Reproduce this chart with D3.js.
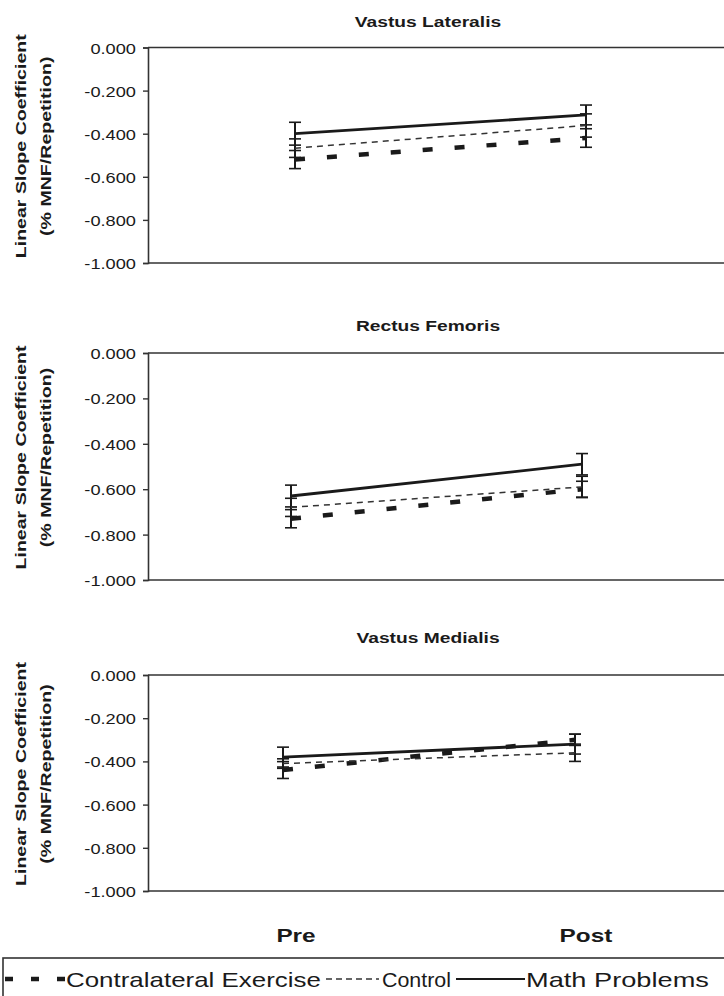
<!DOCTYPE html>
<html>
<head>
<meta charset="utf-8">
<script src="https://cdn.jsdelivr.net/npm/d3@7"></script>
<style>
  html, body { margin: 0; padding: 0; background: #fff; }
  svg { display: block; }
  text { font-family: "Liberation Sans", Arial, sans-serif; fill: #1a1a1a; }
</style>
</head>
<body>
<svg id="chart" width="724" height="996"></svg>
<script>
// ---------------- data ----------------
const categories = ["Pre", "Post"];
const panelTitles = ["Vastus Lateralis", "Rectus Femoris", "Vastus Medialis"];
const yTickValues = [0, -0.2, -0.4, -0.6, -0.8, -1.0];
const seriesNames = ["Contralateral Exercise", "Control", "Math Problems"];

// means per panel [Pre, Post]
const contraMean  = [[-0.520, -0.420], [-0.730, -0.600], [-0.440, -0.300]];
const controlMean = [[-0.467, -0.362], [-0.680, -0.590], [-0.410, -0.360]];
const mathMean    = [[-0.400, -0.313], [-0.630, -0.490], [-0.380, -0.320]];
// standard errors per panel [Pre, Post]
const contraSE    = [[0.042, 0.043], [0.040, 0.035], [0.039, 0.026]];
const controlSE   = [[0.043, 0.054], [0.040, 0.047], [0.022, 0.040]];
const mathSE      = [[0.053, 0.046], [0.048, 0.047], [0.046, 0.046]];

// ---------------- layout ----------------
const W = 724, H = 996;
const panelLayout = [
  { top: 47.5, bottom: 263, left: 148, pre: 295, post: 586, titleY: 27 },
  { top: 353,  bottom: 580, left: 148, pre: 291, post: 582, titleY: 331 },
  { top: 675,  bottom: 891, left: 148, pre: 283, post: 575, titleY: 643 }
];
const TXT = 1.35; // horizontal glyph stretch along reading direction

const svg = d3.select("#chart");
const fmt = d => d3.format(".3f")(d).replace("\u2212", "-");

const styles = [
  { width: 4.5, dash: "10,22", color: "#1a1a1a" },
  { width: 1.5, dash: "6,5",   color: "#333" },
  { width: 2.8, dash: null,    color: "#1a1a1a" }
];

panelTitles.forEach((title, p) => {
  const L = panelLayout[p];
  const y = d3.scaleLinear().domain([-1, 0]).range([L.bottom, L.top]);
  const x = d3.scalePoint().domain(categories).range([L.pre, L.post]);
  const g = svg.append("g");

  // title
  g.append("text")
    .attr("transform", `translate(428,${L.titleY}) scale(${TXT * 0.95},1)`)
    .attr("text-anchor", "middle")
    .style("font-weight", "bold").style("font-size", "15px")
    .text(title);

  // frame lines (top = category axis at 0, bottom border)
  g.append("line").attr("x1", L.left).attr("x2", W).attr("y1", y(0)).attr("y2", y(0))
    .attr("stroke", "#333").attr("stroke-width", 1.6);
  g.append("line").attr("x1", L.left).attr("x2", W).attr("y1", y(-1)).attr("y2", y(-1))
    .attr("stroke", "#333").attr("stroke-width", 1.6);

  // y axis
  const yAxis = d3.axisLeft(y).tickValues(yTickValues).tickSize(5).tickFormat(fmt);
  const ax = g.append("g").attr("transform", `translate(${L.left},0)`).call(yAxis);
  ax.select(".domain").attr("stroke", "#333").attr("stroke-width", 1.6);
  ax.selectAll(".tick line").attr("stroke", "#333").attr("stroke-width", 1.4);
  ax.selectAll(".tick text")
    .attr("x", null).attr("dy", null)
    .attr("transform", `translate(-12,5.5) scale(${TXT * 0.9},1)`)
    .style("font-size", "15px").style("font-family", "'Liberation Sans', Arial, sans-serif")
    .attr("fill", "#333");

  // y-axis label (two lines)
  const cy = (L.top + L.bottom) / 2 - 9;
  g.append("text")
    .attr("transform", `translate(26,${cy}) rotate(-90) scale(${TXT},1)`)
    .attr("text-anchor", "middle")
    .style("font-weight", "bold").style("font-size", "14.5px")
    .text("Linear Slope Coefficient");
  g.append("text")
    .attr("transform", `translate(51,${cy}) rotate(-90) scale(${TXT},1)`)
    .attr("text-anchor", "middle")
    .style("font-weight", "bold").style("font-size", "14.5px")
    .text("(% MNF/Repetition)");

  const means = [contraMean[p], controlMean[p], mathMean[p]];
  const ses = [contraSE[p], controlSE[p], mathSE[p]];

  // error bars
  means.forEach((m, s) => {
    categories.forEach((c, i) => {
      const cx = x(c);
      const lo = y(m[i] - ses[s][i]), hi = y(m[i] + ses[s][i]);
      g.append("line").attr("x1", cx).attr("x2", cx).attr("y1", lo).attr("y2", hi)
        .attr("stroke", "#1a1a1a").attr("stroke-width", 2);
      [lo, hi].forEach(yy => {
        g.append("line").attr("x1", cx - 6).attr("x2", cx + 6).attr("y1", yy).attr("y2", yy)
          .attr("stroke", "#1a1a1a").attr("stroke-width", 1.6);
      });
    });
  });

  // series lines
  const line = d3.line().x((d, i) => x(categories[i])).y(d => y(d));
  means.forEach((m, s) => {
    const path = g.append("path").datum(m).attr("d", line)
      .attr("fill", "none").attr("stroke", styles[s].color)
      .attr("stroke-width", styles[s].width);
    if (styles[s].dash) path.attr("stroke-dasharray", styles[s].dash);
  });
});

// category labels at bottom
const xBottom = d3.scalePoint().domain(categories).range([296, 586]);
categories.forEach(c => {
  svg.append("text")
    .attr("transform", `translate(${xBottom(c)},942) scale(${TXT * 0.95},1)`)
    .attr("text-anchor", "middle")
    .style("font-weight", "bold").style("font-size", "19px")
    .text(c);
});

// legend
const lg = svg.append("g");
lg.append("rect").attr("x", 3).attr("y", 958).attr("width", 740).attr("height", 60)
  .attr("fill", "none").attr("stroke", "#333").attr("stroke-width", 1.6);
const legendItems = [
  { x1: 5,   x2: 66,  tx: 66,  tw: 255 },
  { x1: 326, x2: 379, tx: 382, tw: 69 },
  { x1: 456, x2: 525, tx: 526, tw: 183 }
];
seriesNames.forEach((name, s) => {
  const it = legendItems[s];
  const ln = lg.append("line").attr("x1", it.x1).attr("x2", it.x2).attr("y1", 979).attr("y2", 979)
    .attr("stroke", styles[s].color)
    .attr("stroke-width", s === 0 ? 4.5 : (s === 1 ? 1.4 : 2.2));
  if (s === 0) ln.attr("stroke-dasharray", "8,18");
  if (s === 1) ln.attr("stroke-dasharray", "6,4");
  const t = lg.append("text")
    .attr("transform", `translate(${it.tx},987)`)
    .style("font-size", "21px")
    .text(name);
  const natural = t.node().getComputedTextLength();
  t.attr("transform", `translate(${it.tx},987) scale(${it.tw / natural},1)`);
});
</script>
</body>
</html>
